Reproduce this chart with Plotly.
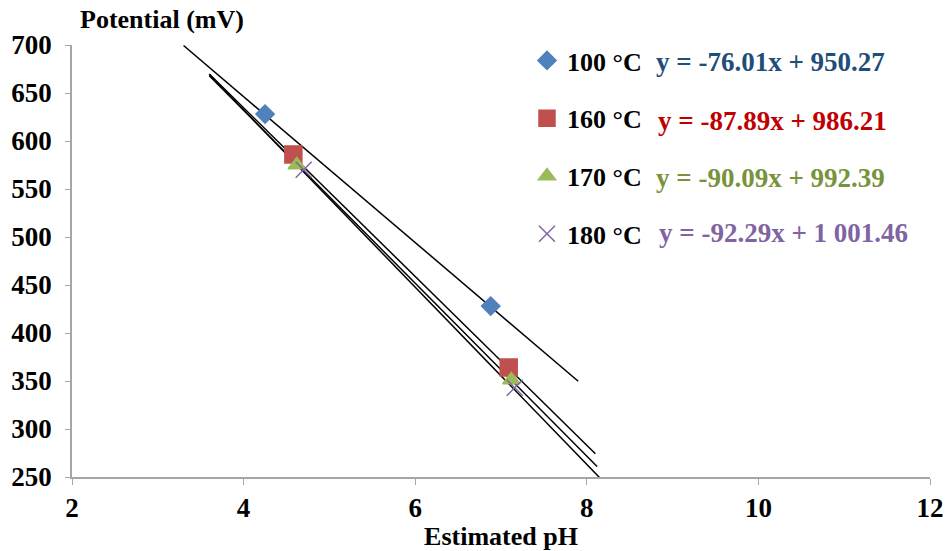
import plotly.graph_objects as go

series_names = ["100 °C", "160 °C", "170 °C", "180 °C"]
ph_values = [[4.25, 6.88], [4.58, 7.09], [4.62, 7.12], [4.70, 7.16]]
potential_values = [[628, 428], [586, 364], [575, 351], [570, 343]]
slopes = [-76.01, -87.89, -90.09, -92.29]
intercepts = [950.27, 986.21, 992.39, 1001.46]
trend_x_start = [3.3, 3.6, 3.6, 3.6]
trend_x_end = [7.9, 8.1, 8.12, 8.15]
equation_labels = ["y = -76.01x + 950.27", "y = -87.89x + 986.21",
                   "y = -90.09x + 992.39", "y = -92.29x + 1 001.46"]

marker_colors = ["#4F81BD", "#C0504D", "#9BBB59", "#8064A2"]
equation_colors = ["#1F4E79", "#C00000", "#77933C", "#8064A2"]
marker_symbols = ["diamond", "square", "triangle-up", "x-thin-open"]
marker_sizes = [14, 17, 15, 16]

FONT = "Liberation Serif"
fig = go.Figure()

for i in range(4):
    xs = [trend_x_start[i], trend_x_end[i]]
    ys = [slopes[i] * x + intercepts[i] for x in xs]
    fig.add_trace(go.Scatter(x=xs, y=ys, mode="lines", showlegend=False,
                             line=dict(color="black", width=1.5), hoverinfo="skip"))

for i in range(4):
    fig.add_trace(go.Scatter(
        x=ph_values[i], y=potential_values[i], mode="markers",
        name=series_names[i], legendgroup=str(i),
        marker=dict(symbol=marker_symbols[i], size=marker_sizes[i], color=marker_colors[i],
                    line=dict(color=marker_colors[i], width=1.5))))

eq_y_px = [62, 121, 178, 233]
eq_x_px = [654, 656, 654, 657]
for i in range(4):
    fig.add_annotation(xref="paper", yref="paper", x=(eq_x_px[i] - 72) / 858,
                       y=1 - (eq_y_px[i] - 45) / 432, xanchor="left", yanchor="middle",
                       text=equation_labels[i], showarrow=False,
                       font=dict(family=FONT, size=27, color=equation_colors[i], weight="bold"))

fig.add_annotation(xref="paper", yref="paper", x=(78 - 72) / 858, y=1 + (45 - 20) / 432,
                   xanchor="left", yanchor="middle", text="Potential (mV)",
                   showarrow=False, font=dict(family=FONT, size=26, color="black", weight="bold"))

tickfont = dict(family=FONT, size=27, color="black", weight="bold")
fig.update_layout(
    width=945, height=551, margin=dict(l=72, r=15, t=45, b=74),
    paper_bgcolor="white", plot_bgcolor="white",
    font=dict(family=FONT, size=24, color="black"),
    legend=dict(x=(527 - 72) / 858, y=1 - (37 - 45) / 432, xanchor="left", yanchor="top",
                font=dict(family=FONT, size=26, color="black", weight="bold"), tracegroupgap=21,
                itemwidth=30, bgcolor="rgba(0,0,0,0)"),
    xaxis=dict(range=[2, 12], dtick=2, showgrid=False, zeroline=False, automargin=False,
               showline=True, linecolor="#A6A6A6", linewidth=1.5,
               ticks="outside", ticklen=6, tickcolor="#A6A6A6", tickfont=tickfont,
               title=dict(text="Estimated pH", font=dict(family=FONT, size=26, weight="bold"), standoff=6)),
    yaxis=dict(range=[250, 700], dtick=50, showgrid=False, zeroline=False, automargin=False,
               showline=True, linecolor="#A6A6A6", linewidth=1.5, ticklabelstandoff=8,
               ticks="outside", ticklen=5, tickcolor="#A6A6A6", tickfont=tickfont),
)

fig.write_html("out.html")
